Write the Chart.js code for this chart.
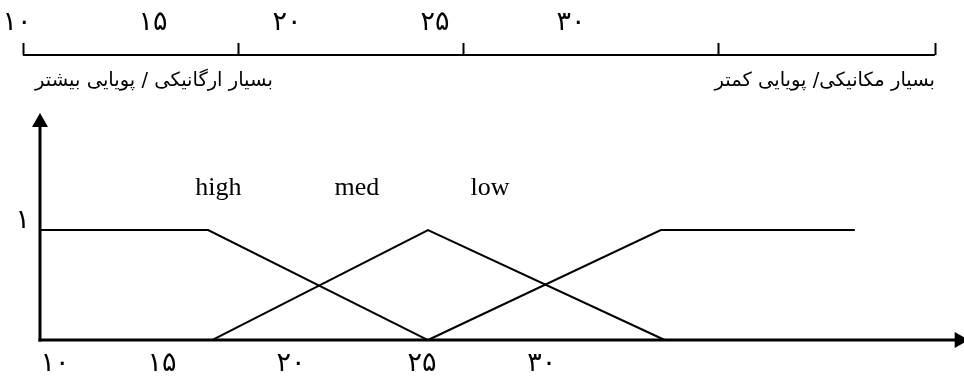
<!DOCTYPE html>
<html>
<head>
<meta charset="utf-8">
<script src="https://cdn.jsdelivr.net/npm/chart.js@4"></script>
<style>
  html, body { margin: 0; padding: 0; background: #fff; }
  #wrap { width: 964px; height: 376px; position: relative; }
</style>
</head>
<body>
<div id="wrap"><canvas id="c"></canvas></div>
<script>
// ---- data ----
const highX = [10, 16.5, 25];
const highY = [1, 1, 0];
const medX  = [16.65, 25, 34.15];
const medY  = [0, 1, 0];
const lowX  = [25, 34, 41.5];
const lowY  = [0, 1, 1];

const setNames  = ['high', 'med', 'low'];
const setLabelX = [16.9, 22.25, 27.4];
const setLabelY = 1.32;

const tickLabels   = ['۱۰', '۱۵', '۲۰', '۲۵', '۳۰'];
const bottomTickAt = [10.58, 14.72, 19.70, 24.77, 29.40];
const topTickLabelAt = [9.11, 14.37, 19.55, 25.27, 30.53];
const topTickMarks = [9.34, 17.65, 26.35, 36.21, 44.60];
const yTickLabels = ['۱'];
const yTickAt = [1];

const leftCaption  = 'بسیار ارگانیکی / پویایی بیشتر';
const rightCaption = 'بسیار مکانیکی/ پویایی کمتر';
const leftCaptionEnd = 19.0;

const xOrigin = 10;
const yArrowTop = 2.064;
const xArrowEnd = 45.9;
const topAxisY = 2.591;

function pts(xs, ys) { return xs.map((v, i) => ({ x: v, y: ys[i] })); }

const axesPlugin = {
  id: 'fuzzyAxes',
  beforeDatasetsDraw(chart) {
    const { ctx, scales: { x, y } } = chart;
    const px0 = x.getPixelForValue(xOrigin);
    const py0 = y.getPixelForValue(0);
    ctx.save();
    ctx.strokeStyle = '#000';
    ctx.fillStyle = '#000';
    ctx.lineWidth = 3;
    // y axis
    const pyTop = y.getPixelForValue(yArrowTop);
    ctx.beginPath();
    ctx.moveTo(px0, py0 + 1.5);
    ctx.lineTo(px0, pyTop + 12);
    ctx.stroke();
    ctx.beginPath();
    ctx.moveTo(px0, pyTop);
    ctx.lineTo(px0 - 8, pyTop + 14);
    ctx.lineTo(px0 + 8, pyTop + 14);
    ctx.closePath();
    ctx.fill();
    // x axis
    const pxEnd = x.getPixelForValue(xArrowEnd);
    ctx.beginPath();
    ctx.moveTo(px0 - 1.5, py0);
    ctx.lineTo(pxEnd - 12, py0);
    ctx.stroke();
    ctx.beginPath();
    ctx.moveTo(pxEnd, py0);
    ctx.lineTo(pxEnd - 14, py0 - 8);
    ctx.lineTo(pxEnd - 14, py0 + 8);
    ctx.closePath();
    ctx.fill();

    // top axis
    const pyT = y.getPixelForValue(topAxisY);
    ctx.lineWidth = 2;
    ctx.beginPath();
    ctx.moveTo(x.getPixelForValue(topTickMarks[0]), pyT);
    ctx.lineTo(x.getPixelForValue(topTickMarks[topTickMarks.length - 1]), pyT);
    ctx.stroke();
    topTickMarks.forEach(v => {
      const p = Math.round(x.getPixelForValue(v)) + 0.5;
      ctx.beginPath();
      ctx.moveTo(p, pyT);
      ctx.lineTo(p, pyT - 12);
      ctx.stroke();
    });

    // tick labels
    ctx.font = '27px "DejaVu Sans", sans-serif';
    ctx.textAlign = 'center';
    ctx.textBaseline = 'alphabetic';
    tickLabels.forEach((t, i) => {
      ctx.fillText(t, x.getPixelForValue(bottomTickAt[i]), py0 + 31);
      ctx.fillText(t, x.getPixelForValue(topTickLabelAt[i]), pyT - 25);
    });
    ctx.textAlign = 'right';
    yTickLabels.forEach((t, i) => {
      ctx.fillText(t, px0 - 10, y.getPixelForValue(yTickAt[i]) - 2);
    });

    // captions
    ctx.font = '19.5px "DejaVu Sans", sans-serif';
    ctx.direction = 'rtl';
    ctx.textAlign = 'right';
    ctx.fillText(leftCaption, x.getPixelForValue(leftCaptionEnd), pyT + 31);
    ctx.fillText(rightCaption, x.getPixelForValue(topTickMarks[topTickMarks.length - 1]), pyT + 31);
    ctx.direction = 'ltr';

    // set names
    ctx.font = '26px "Liberation Serif", serif';
    ctx.textAlign = 'center';
    setNames.forEach((n, i) => {
      ctx.fillText(n, x.getPixelForValue(setLabelX[i]), y.getPixelForValue(setLabelY));
    });
    ctx.restore();
  }
};

const lineStyle = { borderColor: '#000', borderWidth: 2, pointRadius: 0, fill: false, tension: 0 };

new Chart(document.getElementById('c'), {
  type: 'scatter',
  data: {
    datasets: [
      { label: 'high', data: pts(highX, highY), showLine: true, ...lineStyle },
      { label: 'med',  data: pts(medX, medY),  showLine: true, ...lineStyle },
      { label: 'low',  data: pts(lowX, lowY),  showLine: true, ...lineStyle }
    ]
  },
  options: {
    responsive: true,
    maintainAspectRatio: false,
    animation: false,
    layout: { padding: 0 },
    plugins: { legend: { display: false }, tooltip: { enabled: false } },
    scales: {
      x: { type: 'linear', min: 8.454, max: 45.72, display: false },
      y: { type: 'linear', min: -0.327, max: 3.091, display: false }
    }
  },
  plugins: [axesPlugin]
});
</script>
</body>
</html>
